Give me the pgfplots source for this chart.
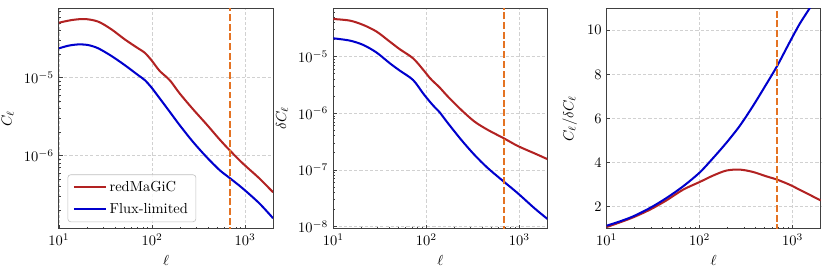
\documentclass[border=0pt]{standalone}
\usepackage{pgfplots}
\pgfplotsset{compat=1.18}
\definecolor{cred}{RGB}{178,34,34}
\definecolor{cblue}{RGB}{0,0,205}
\definecolor{corange}{RGB}{228,115,35}
\pgfplotsset{
  every axis/.append style={
    scale only axis, width=147.7pt, height=152.1pt,
    xmode=log, xmin=10, xmax=2000,
    xlabel={$\ell$},
    tick align=inside, xtick pos=left, ytick pos=left,
    grid=major,
    major grid style={black!18, dash pattern=on 2.2pt off 1.4pt, line width=0.45pt},
    axis line style={black!75, line width=0.7pt},
    major tick length=2.5pt, minor tick length=1.4pt,
    every tick/.style={black!75, line width=0.5pt},
  },
}
\tikzset{
  cl/.style={line width=1.4pt, smooth},
  vl/.style={corange, line width=1.4pt, dash pattern=on 4.8pt off 1.9pt},
}
\begin{document}
\begin{tikzpicture}
\path[use as bounding box] (0,0) rectangle (572.7pt,-191.1pt);
% Panel 1
\begin{axis}[at={(40.7pt,-5.7pt)}, anchor=north west,
  ymode=log, ymin=1.16e-7, ymax=7.76e-5, ylabel={$C_\ell$},
  legend style={at={(0.04,0.03)}, anchor=south west, draw=black!25,
    rounded corners=2pt, fill=white, fill opacity=0.8, text opacity=1,
    inner xsep=3.5pt, inner ysep=2.5pt, row sep=2.5pt, cells={anchor=west}},
  legend image code/.code={\draw[#1] (0pt,0pt) -- (21.9pt,0pt);}]
\addplot[cred, cl] coordinates {
(10,5.07e-5) (13.7,5.48e-5) (19.0,5.65e-5) (26.4,5.23e-5) (36.6,4.17e-5)
(50.9,3.10e-5) (70.8,2.38e-5) (83.5,2.09e-5) (98.4,1.68e-5) (121,1.22e-5)
(155,9.30e-6) (198,6.30e-6) (275,3.96e-6) (383,2.55e-6)
(532,1.62e-6) (681,1.18e-6) (944,7.98e-7) (1426,5.12e-7) (2000,3.40e-7)};
\addlegendentry{redMaGiC}
\addplot[cblue, cl] coordinates {
(10,2.38e-5) (12.6,2.57e-5) (16.1,2.67e-5) (20.6,2.62e-5) (26.4,2.38e-5)
(36.6,1.90e-5) (50.9,1.45e-5) (70.8,1.08e-5) (83.5,9.33e-6) (98.4,7.52e-6)
(121,5.43e-6) (155,3.66e-6) (198,2.47e-6) (275,1.51e-6) (383,9.70e-7)
(532,6.55e-7) (681,5.20e-7) (944,3.81e-7) (1426,2.45e-7) (2000,1.58e-7)};
\addlegendentry{Flux-limited}
\addplot[vl, forget plot] coordinates {(685,1e-9) (685,1e-3)};
\end{axis}
% Panel 2
\begin{axis}[at={(230pt,-5.7pt)}, anchor=north west,
  ymode=log, ymin=9.14e-9, ymax=7.16e-5, ylabel={$\delta C_\ell$}]
\addplot[cred, cl] coordinates {
(10,4.63e-5) (15.1,4.33e-5) (21.0,3.63e-5) (29.2,2.77e-5) (40.5,1.84e-5)
(51.9,1.35e-5) (72.0,9.35e-6) (92.2,5.90e-6) (109,4.20e-6) (123,3.45e-6)
(139,2.85e-6) (171,1.96e-6) (238,1.14e-6) (330,7.11e-7) (459,5.07e-7)
(681,3.61e-7) (962,2.64e-7) (1452,1.96e-7) (2000,1.55e-7)};
\addplot[cblue, cl] coordinates {
(10,2.11e-5) (15.1,1.92e-5) (21.0,1.61e-5) (29.2,1.18e-5) (40.5,7.64e-6)
(51.9,5.66e-6) (72.0,3.87e-6) (92.2,2.25e-6) (109,1.60e-6) (123,1.28e-6)
(139,1.04e-6) (171,6.65e-7) (238,3.37e-7) (330,1.83e-7) (459,1.07e-7)
(681,6.19e-8) (962,3.86e-8) (1452,2.10e-8) (2000,1.36e-8)};
\addplot[vl] coordinates {(685,1e-10) (685,1e-3)};
\end{axis}
% Panel 3
\begin{axis}[at={(418.6pt,-5.7pt)}, anchor=north west,
  ymin=1, ymax=11, ytick={2,4,6,8,10}, ylabel={$C_\ell/\delta C_\ell$}]
\addplot[cred, cl] coordinates {
(10,1.076) (13.9,1.288) (19.3,1.515) (29.2,1.864) (44.0,2.288) (66.4,2.773)
(100,3.12) (139,3.409) (193,3.636) (268,3.682) (373,3.576) (518,3.379)
(679,3.227) (921,3.0) (1179,2.773) (1509,2.545) (2000,2.28)};
\addplot[cblue, cl] coordinates {
(10,1.136) (13.9,1.333) (19.3,1.561) (29.2,1.94) (44.0,2.394) (66.4,2.924)
(100,3.55) (139,4.20) (193,4.89) (268,5.652) (373,6.561) (518,7.545)
(679,8.379) (921,9.439) (1179,10.27) (1509,10.98) (2000,11.8)};
\addplot[vl] coordinates {(685,0) (685,12)};
\end{axis}
\end{tikzpicture}
\end{document}
